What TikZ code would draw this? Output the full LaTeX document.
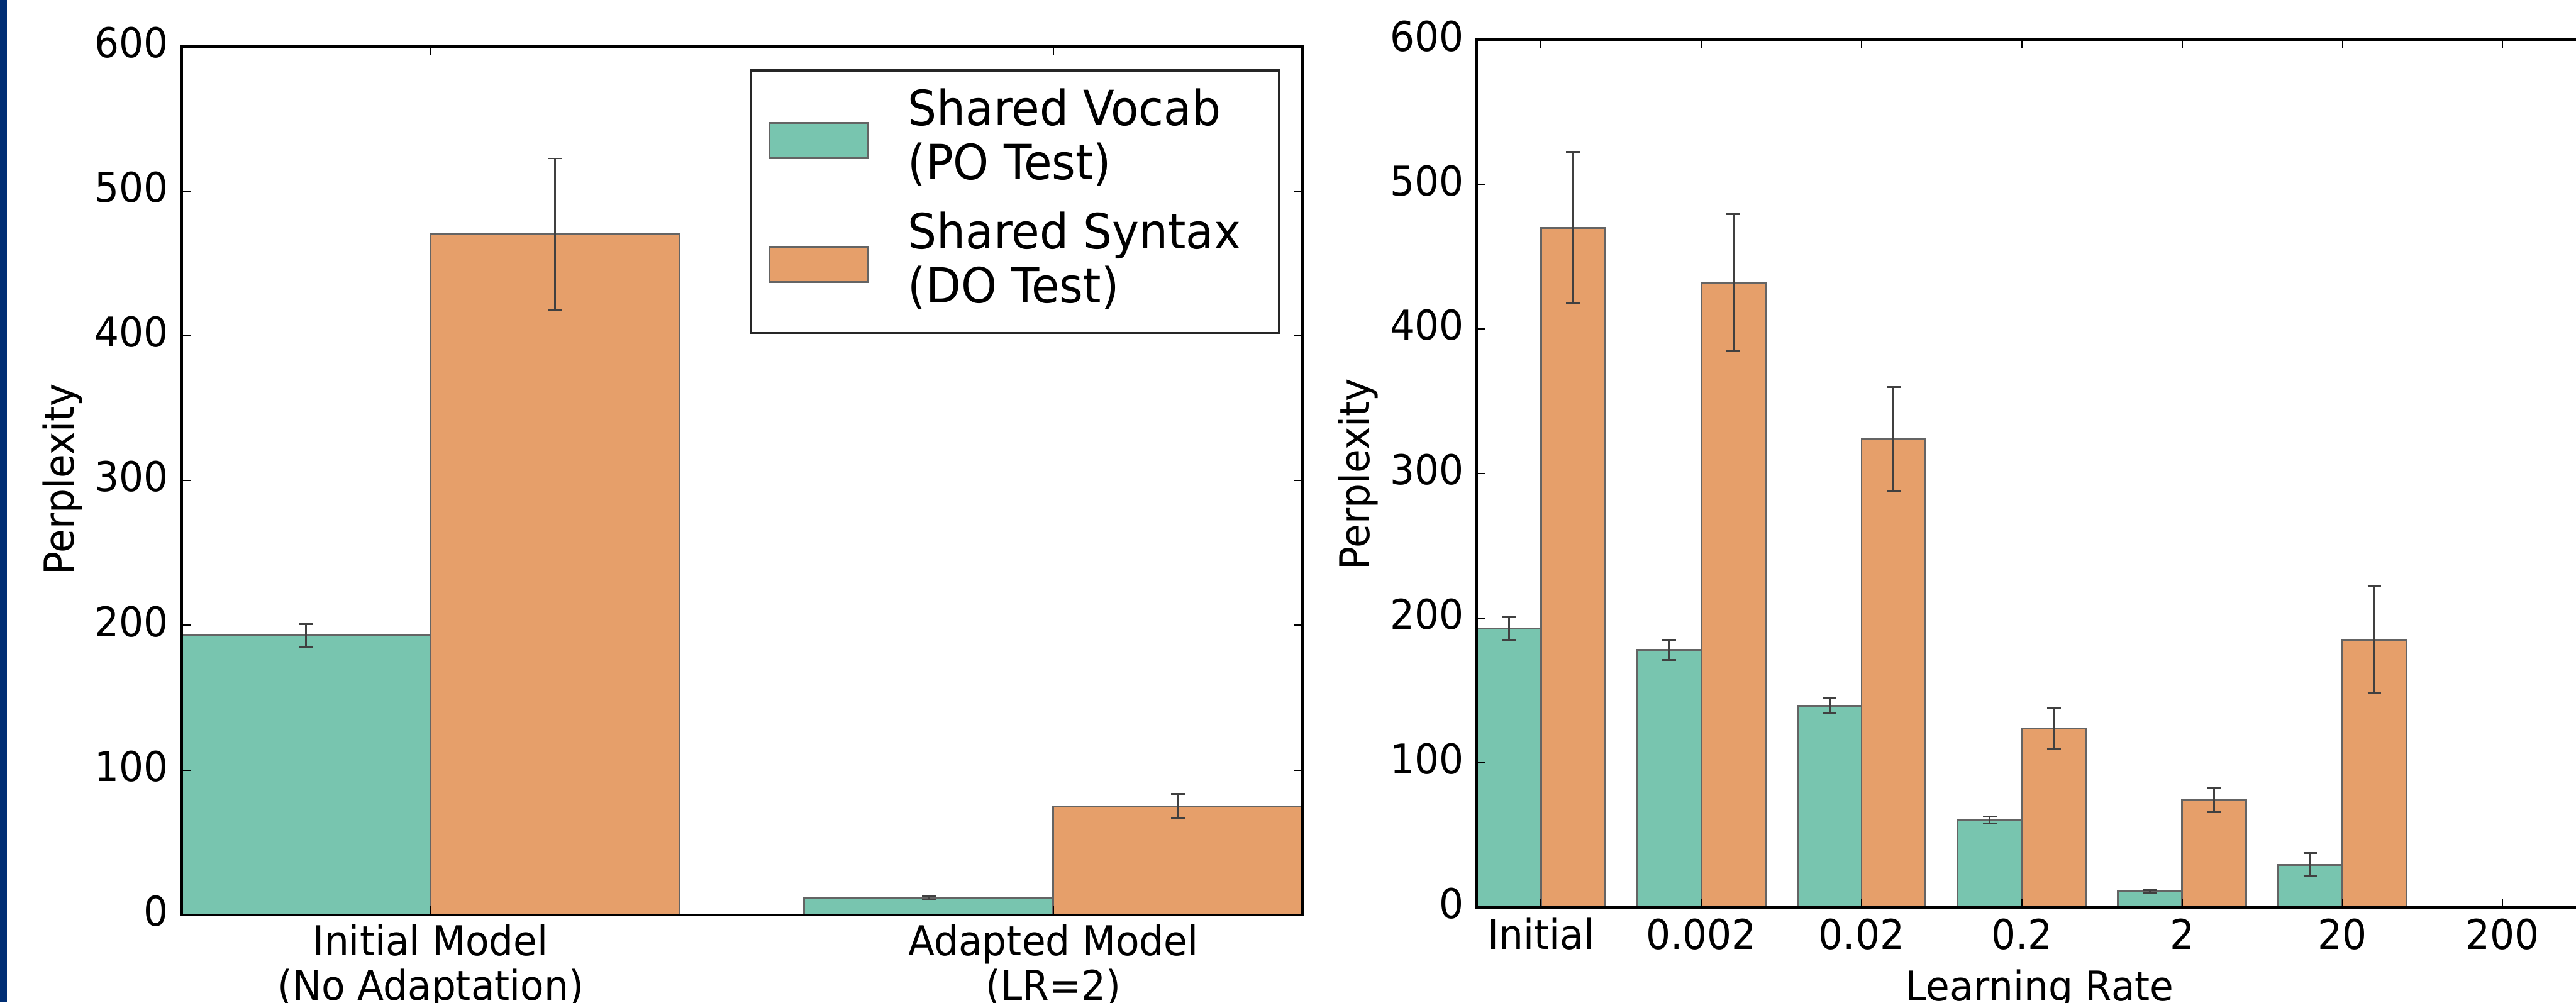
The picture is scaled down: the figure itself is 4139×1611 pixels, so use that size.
\documentclass[tikz,border=0pt]{standalone}
\usepackage{fontspec}
\setmainfont[FakeStretch=0.94]{DejaVu Sans}
\definecolor{vocabgreen}{RGB}{120,197,175}
\definecolor{syntaxorange}{RGB}{230,159,106}
\definecolor{barline}{RGB}{100,100,100}
\definecolor{errline}{RGB}{64,64,64}
\definecolor{sideblue}{RGB}{0,46,116}

\begin{document}
\begin{tikzpicture}[x=0.2pt, y=-0.2pt,
    spine/.style={line width=0.8pt, black},
    tickmark/.style={line width=0.4pt, black},
    bar/.style={draw=barline, line width=0.6pt},
    errbar/.style={errline, line width=0.6pt},
    ticklabel/.style={font=\fontsize{13.2}{15.8}\selectfont, inner sep=0pt},
    legendtext/.style={font=\fontsize{15.6}{17.2}\selectfont, inner sep=0pt, anchor=base west}]
    \useasboundingbox (0,0) rectangle (4139,1611);
    \fill[sideblue] (0,0) rectangle (11,1611);

    % Left panel: initial vs adapted model
    \begin{scope}[shift={(692,1470)}, x=200.1pt, y=0.4652pt]
        \foreach \i/\g/\ge/\o/\oe in {0/193/8/470/52.5, 1/11.5/1/75/8.5} {
                \draw[bar, fill=vocabgreen] (\i-0.4,0) rectangle (\i,\g);
                \draw[bar, fill=syntaxorange] (\i,0) rectangle (\i+0.4,\o);
                \draw[errbar] (\i-0.2,\g-\ge) -- (\i-0.2,\g+\ge)
                    (\i-0.2,\g-\ge) ++(-2.2pt,0pt) -- ++(4.4pt,0pt)
                    (\i-0.2,\g+\ge) ++(-2.2pt,0pt) -- ++(4.4pt,0pt);
                \draw[errbar] (\i+0.2,\o-\oe) -- (\i+0.2,\o+\oe)
                    (\i+0.2,\o-\oe) ++(-2.2pt,0pt) -- ++(4.4pt,0pt)
                    (\i+0.2,\o+\oe) ++(-2.2pt,0pt) -- ++(4.4pt,0pt);
            }
        \draw[spine] (-0.4,0) rectangle (1.4,600);
        % Ticks
        \foreach \v in {0,100,...,600} {
                \draw[tickmark] (-0.4,\v) -- ++(2.8pt,0pt);
                \draw[tickmark] (1.4,\v) -- ++(-2.8pt,0pt);
                \node[ticklabel, anchor=base east, xshift=-4pt, yshift=-3.6pt] (ly\v) at (-0.4,\v) {\v};
            }
        \foreach \t in {0,1} {
                \draw[tickmark] (\t,0) -- ++(0pt,2.8pt);
                \draw[tickmark] (\t,600) -- ++(0pt,-2.8pt);
            }
        \node[ticklabel, anchor=base, yshift=-13pt] (initA) at (0,0) {Initial Model};
        \node[ticklabel, anchor=base, yshift=-27.4pt] (initB) at (0,0) {(No Adaptation)};
        \node[ticklabel, anchor=base, yshift=-13pt] (adaptA) at (1,0) {Adapted Model};
        \node[ticklabel, anchor=base, yshift=-27.4pt] (adaptB) at (1,0) {(LR=2)};
    \end{scope}
    \node[ticklabel, rotate=90, anchor=base] (ylabL) at (119,770) {Perplexity};

    % Legend
    \draw[line width=0.7pt, black!85, fill=white] (1206,113) rectangle (2055,535);
    \draw[bar, fill=vocabgreen] (1236,198) rectangle (1394,254);
    \draw[bar, fill=syntaxorange] (1236,397) rectangle (1394,453);
    \node[legendtext] (vocabA) at (1458,202) {Shared Vocab};
    \node[legendtext] (vocabB) at (1458,288) {(PO Test)};
    \node[legendtext] (syntaxA) at (1458,400) {Shared Syntax};
    \node[legendtext] (syntaxB) at (1458,487) {(DO Test)};

    % Right panel: learning rate sweep
    \begin{scope}[shift={(2476,1458)}, x=51.5pt, y=0.46466pt]
        \foreach \i/\g/\ge/\o/\oe in {0/193/8/470/52.5, 1/178/7/432/47.5, 2/139.5/5.5/324/36,
                3/60.5/2.5/123.5/14, 4/11/1/74.5/8.5, 5/29.5/8/185/37} {
                \draw[bar, fill=vocabgreen] (\i-0.4,0) rectangle (\i,\g);
                \draw[bar, fill=syntaxorange] (\i,0) rectangle (\i+0.4,\o);
                \draw[errbar] (\i-0.2,\g-\ge) -- (\i-0.2,\g+\ge)
                    (\i-0.2,\g-\ge) ++(-2.2pt,0pt) -- ++(4.4pt,0pt)
                    (\i-0.2,\g+\ge) ++(-2.2pt,0pt) -- ++(4.4pt,0pt);
                \draw[errbar] (\i+0.2,\o-\oe) -- (\i+0.2,\o+\oe)
                    (\i+0.2,\o-\oe) ++(-2.2pt,0pt) -- ++(4.4pt,0pt)
                    (\i+0.2,\o+\oe) ++(-2.2pt,0pt) -- ++(4.4pt,0pt);
            }
        \draw[spine] (6.458,600) -- (-0.4,600) -- (-0.4,0) -- (6.458,0);
        % Ticks
        \foreach \v in {0,100,...,600} {
                \draw[tickmark] (-0.4,\v) -- ++(2.8pt,0pt);
                \node[ticklabel, anchor=base east, xshift=-4pt, yshift=-3.6pt] (ry\v) at (-0.4,\v) {\v};
            }
        \foreach \t/\l in {0/Initial, 1/0.002, 2/0.02, 3/0.2, 4/2, 5/20, 6/200} {
                \draw[tickmark] (\t,0) -- ++(0pt,2.8pt);
                \draw[tickmark] (\t,600) -- ++(0pt,-2.8pt);
                \node[ticklabel, anchor=base, yshift=-13.4pt] (rx\t) at (\t,0) {\l};
            }
    \end{scope}
    \node[ticklabel, anchor=base] (xlabR) at (3277,1608) {Learning Rate};
    \node[ticklabel, rotate=90, anchor=base] (ylabR) at (2200,762) {Perplexity};
\end{tikzpicture}
\end{document}
